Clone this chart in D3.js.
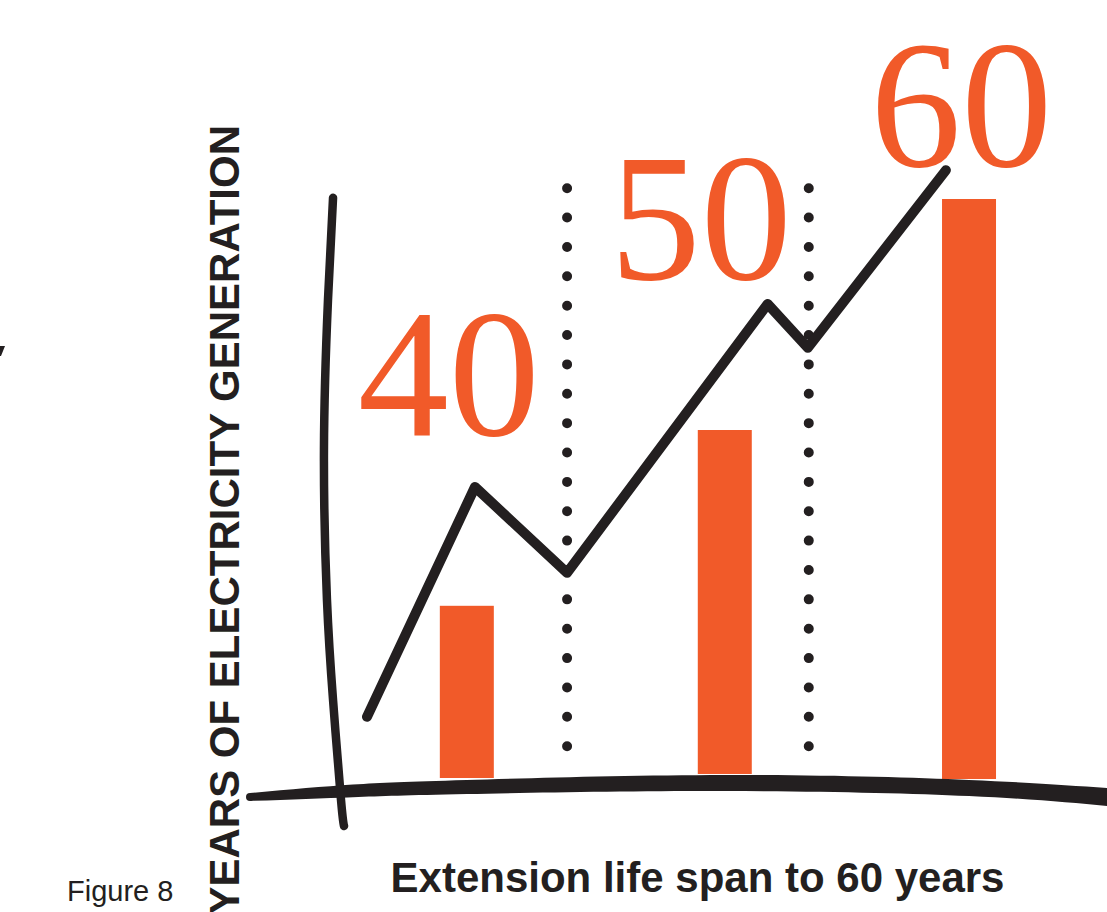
<!DOCTYPE html>
<html><head><meta charset="utf-8">
<script src="https://cdn.jsdelivr.net/npm/d3@7"></script>
<style>html,body{margin:0;padding:0;background:#fff;}svg{display:block;}</style>
</head><body>
<svg id="c" width="1107" height="912"></svg>
<script>
// ---- data (chart units: x 0-100 across the plot, y 0-100 up) ----
const categories = ["40", "50", "60"];
const labelValues = [40, 50, 60];
const barCenter = [25.3, 55.4, 83.9];
const barLow = [0.0, 0.67, -0.17];
const barHigh = [28.7, 58.0, 96.5];
const labelX = [23.2, 52.6, 83.0];
const labelY = [57.2, 83.2, 102.0];
const lineX = [13.65, 26.25, 37.0, 60.4, 65.1, 81.2];
const lineY = [10.2, 48.5, 34.2, 79.0, 71.7, 101.3];
const dividerX = [37.0, 65.2];
const dividerTop = 98.3, dividerBottom = 5.3;
const vAxisX = [9.69, 9.1, 8.63, 8.98, 9.69, 10.62, 10.97];
const vAxisY = [96.7, 79.7, 54.7, 29.7, 13.0, -3.67, -8.0];
const hAxisTopX = [0, 12, 25.3, 55.4, 83.9, 100];
const hAxisTopY = [-2.5, -1.1, -0.33, 0.5, -0.33, -1.67];
const hAxisBotX = [100, 83.9, 55.4, 25.3, 12, 0];
const hAxisBotY = [-4.67, -3.0, -2.17, -2.67, -3.2, -3.83];
const barWidth = 6.3;

const ORANGE = "#f15a29", INK = "#231f20";
const svg = d3.select("#c");
const x = d3.scaleLinear().domain([0, 100]).range([250, 1107]);
const y = d3.scaleLinear().domain([0, 100]).range([778, 178]);

// small stray mark at left edge
svg.append("path").attr("d", "M0,346 L5,346 L1,356 L0,356 Z").attr("fill", INK);

// y label
svg.append("text")
  .attr("transform", "translate(239,125) rotate(-90)")
  .attr("text-anchor", "end")
  .attr("font-family", "'Liberation Sans', Arial, sans-serif")
  .attr("font-weight", "bold").attr("font-size", 42).attr("fill", INK)
  .text("YEARS OF ELECTRICITY GENERATION");

// bars
svg.selectAll("rect.bar").data(categories).join("rect").attr("class", "bar")
  .attr("x", (d, i) => x(barCenter[i] - barWidth / 2))
  .attr("width", (d, i) => x(barCenter[i] + barWidth / 2) - x(barCenter[i] - barWidth / 2))
  .attr("y", (d, i) => y(barHigh[i]))
  .attr("height", (d, i) => y(barLow[i]) - y(barHigh[i]))
  .attr("fill", ORANGE);

// dotted dividers
svg.selectAll("line.div").data(dividerX).join("line").attr("class", "div")
  .attr("x1", d => x(d)).attr("x2", d => x(d))
  .attr("y1", y(dividerTop)).attr("y2", y(dividerBottom))
  .attr("stroke", INK).attr("stroke-width", 10).attr("stroke-linecap", "round")
  .attr("stroke-dasharray", "0 " + ((y(dividerBottom) - y(dividerTop)) / 19));

// value labels
svg.selectAll("text.val").data(labelValues).join("text").attr("class", "val")
  .attr("x", (d, i) => x(labelX[i])).attr("y", (d, i) => y(labelY[i]))
  .attr("text-anchor", "middle")
  .attr("font-family", "'Liberation Serif', 'Times New Roman', serif")
  .attr("font-size", 182).attr("fill", ORANGE)
  .text(d => d);

// trend line
const lineGen = d3.line().x(d => x(d[0])).y(d => y(d[1]));
svg.append("path").datum(lineX.map((v, i) => [v, lineY[i]]))
  .attr("d", lineGen).attr("fill", "none").attr("stroke", INK)
  .attr("stroke-width", 10).attr("stroke-linecap", "round").attr("stroke-linejoin", "round");

// vertical hand-drawn axis
const curveGen = d3.line().x(d => x(d[0])).y(d => y(d[1])).curve(d3.curveNatural);
svg.append("path").datum(vAxisX.map((v, i) => [v, vAxisY[i]]))
  .attr("d", curveGen).attr("fill", "none").attr("stroke", INK)
  .attr("stroke-width", 8.5).attr("stroke-linecap", "round");

// horizontal hand-drawn axis (tapered brush)
const topPts = hAxisTopX.map((v, i) => [v, hAxisTopY[i]]);
const botPts = hAxisBotX.map((v, i) => [v, hAxisBotY[i]]);
const upperEdge = curveGen(topPts);
const lowerEdge = curveGen(botPts).replace(/^M/, "L");
svg.append("path").attr("d", upperEdge + lowerEdge + "Z").attr("fill", INK);
svg.append("circle").attr("cx", x(0)).attr("cy", (y(hAxisTopY[0]) + y(hAxisBotY[5])) / 2)
  .attr("r", (y(hAxisBotY[5]) - y(hAxisTopY[0])) / 2).attr("fill", INK);

// x label
svg.append("text").attr("x", 697.5).attr("y", 892).attr("text-anchor", "middle")
  .attr("font-family", "'Liberation Sans', Arial, sans-serif")
  .attr("font-weight", "bold").attr("font-size", 42).attr("fill", INK)
  .text("Extension life span to 60 years");

// figure caption
svg.append("text").attr("x", 67).attr("y", 901)
  .attr("font-family", "'Liberation Sans', Arial, sans-serif")
  .attr("font-size", 29).attr("fill", INK)
  .text("Figure 8");
</script>
</body></html>
